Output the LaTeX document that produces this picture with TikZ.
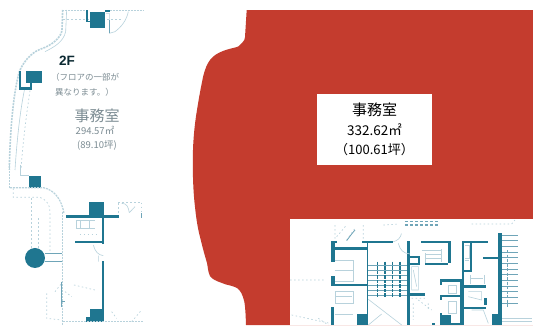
\documentclass[tikz,border=0pt]{standalone}
\usepackage{fontspec}
\setmainfont{Liberation Sans}
\newfontfamily\cjk{Noto Sans CJK JP}
\definecolor{redfill}{HTML}{C43C2E}
\definecolor{plan}{HTML}{1F7690}
\definecolor{mid}{HTML}{6FA5B8}
\definecolor{faint}{HTML}{B8D2DC}
\definecolor{gtext}{HTML}{7C8C93}
\tikzset{
  wall/.style={fill=plan,draw=none},
  midline/.style={draw=mid,line width=.8pt},
  fline/.style={draw=faint,line width=.6pt},
  hatch/.style={draw=faint,line width=1.6pt,dash pattern=on 2pt off 1pt},
  dline/.style={draw=faint,line width=.7pt,dash pattern=on 1.5pt off 2.5pt},
  ltext/.style={text=gtext,inner sep=0pt,font=\cjk\fontsize{8.5}{9}\selectfont},
  mtext/.style={text=black,inner sep=0pt,align=center},
}
\newcommand{\W}[4]{\fill[wall] (#1,#2) rectangle (#3,#4);}
\begin{document}
\begin{tikzpicture}[x=1pt,y=-1pt]
\useasboundingbox (0,0) rectangle (533,325);
\fill[white] (0,0) rectangle (533,325);
% red area
\fill[redfill] (246.7,10) -- (533,10) -- (533,325) -- (246,325)
  .. controls (245.5,310) and (245,302) .. (243,297)
  .. controls (241,291) and (238,288) .. (235,287)
  .. controls (230,285) and (226,285) .. (222,283)
  .. controls (216,281) and (212,279) .. (210,276)
  .. controls (208,272) and (208,268) .. (207,263)
  .. controls (204,253) and (202,245) .. (200,237)
  .. controls (197,225) and (196,216) .. (195,207)
  .. controls (193,190) and (192.5,170) .. (193,150)
  .. controls (193.5,135) and (195,122) .. (197,110)
  .. controls (199,97) and (201,87) .. (203,77)
  .. controls (205,69) and (207,64) .. (210,60)
  .. controls (214,55) and (218,53) .. (223,51)
  .. controls (228,49) and (230,49) .. (233,48)
  .. controls (238,47) and (240,46) .. (242,43)
  .. controls (244,41) and (245,39) .. (245,37)
  -- cycle;
% label box
\node[fill=white,minimum width=115pt,minimum height=71pt,inner sep=0pt] (lab) at (374.5,129.5) {};
\node[mtext,font=\cjk\fontsize{15}{15}\selectfont] (l1) at (374.5,110) {事務室};
\node[mtext,font=\cjk\fontsize{13.5}{14}\selectfont] (l2) at (374.5,130) {332.62㎡};
\node[mtext,font=\cjk\fontsize{13}{14}\selectfont] (l3) at (374.5,150) {（100.61坪）};
% lower right white plan
\fill[white] (290,219) rectangle (533,325);
\begin{scope}[shift={(285pt,-210pt)},x=.3333pt,y=-.3333pt]
 \W{137}{92}{150}{155}\W{137}{92}{157}{99}\W{137}{112}{245}{120}
 \W{137}{197}{150}{222}\W{137}{222}{245}{228}\W{137}{290}{148}{345}
 \W{232}{92}{325}{98}\W{245}{92}{250}{345}\W{215}{312}{248}{345}
 \W{365}{92}{375}{345}\W{375}{250}{420}{258}\W{375}{137}{405}{143}\W{375}{158}{405}{164}\W{398}{137}{405}{164}
 \W{407}{92}{497}{98}\W{488}{92}{497}{160}\W{420}{158}{490}{165}
 \W{530}{92}{610}{98}\W{530}{92}{537}{187}\W{555}{92}{561}{187}\W{530}{180}{561}{187}
 \W{530}{180}{537}{345}\W{595}{142}{645}{148}\W{640}{70}{652}{345}
 \W{537}{225}{603}{233}\W{597}{265}{605}{285}\W{537}{290}{603}{296}
 \W{465}{207}{530}{215}\W{465}{207}{472}{225}\W{465}{255}{530}{262}\W{465}{255}{472}{270}
 \W{525}{215}{531}{345}\W{465}{310}{472}{345}\W{465}{315}{498}{345}\W{620}{312}{645}{345}
 \W{440}{340}{450}{345}\W{498}{340}{525}{345}
 \foreach \yy in {165,180,195,210,225,240,255}
   \draw[midline,line width=.6pt] (250,\yy) -- (365,\yy);
 \foreach \xx in {278,300,322,345}
   \draw[draw=plan,line width=1.1pt,dash pattern=on 3.5pt off 1pt] (\xx,155) -- (\xx,262);
 \foreach \yy in {75,92,109,126,143,160,177,194,211,228,245,262,279}
   \draw[midline,line width=.6pt] (652,\yy) -- (700,\yy);
 \draw[draw=mid,line width=1.4pt,dash pattern=on 3pt off 1.5pt] (668,120) -- (668,290);
 \draw[fline] (250,268) -- (350,345) (325,95) arc (80:10:30) (250,345) -- (290,312);
 \draw[dline] (150,45) -- (150,90) (235,45) -- (235,90) (155,80) -- (185,45) (185,90) -- (210,55);
 \draw[draw=mid,line width=.8pt] (185,92) -- (200,72) -- (210,60);
 \draw[dline] (295,45) -- (340,42) (560,42) -- (680,42) (15,210) -- (120,210) (680,42) -- (690,30);
 \draw[draw=mid,line width=1.2pt,dash pattern=on 3pt off 2pt] (360,35) -- (460,35) (360,45) -- (460,45);
 \draw[fline] (150,150) -- (205,150) (150,180) -- (205,180) (205,150) -- (205,215) (150,215) -- (205,215);
 \draw[fline] (150,245) -- (205,245) -- (205,280) -- (150,280) -- (150,245) (150,312) -- (205,312) (150,260) -- (200,260);
 \draw[fline] (380,170) -- (400,170) -- (400,240) -- (380,240) -- cycle (385,180) -- (395,230);
 \draw[fline] (410,120) -- (470,120) (420,145) -- (470,145) (420,132) -- (470,132) (470,118) -- (470,155) (420,130) -- (420,158);
 \draw[fline] (340,100) .. controls (345,120) and (355,130) .. (375,132);
 \draw[fline] (490,225) -- (515,225) -- (515,250) -- (490,250) -- cycle (490,275) -- (515,275) -- (515,310) -- (490,310) -- cycle;
 \draw[fline] (540,105) -- (553,105) -- (553,145) -- (540,145) (540,150) -- (553,150) (555,205) -- (595,205) (557,195) -- (557,222) (597,195) -- (597,222);
 \draw[fline] (550,245) -- (590,245) -- (590,270) -- (550,260) (560,300) -- (595,300) (595,300) -- (610,340);
 \draw[dline] (400,270) -- (440,300) (430,280) -- (430,300) (380,265) -- (420,265) (385,280) -- (385,330);
 \draw[fline] (652,325) -- (740,325) (652,335) -- (740,335);
 \draw[dline] (20,315) -- (135,340) (100,325) -- (130,345);
\end{scope}
% left plan upper
\begin{scope}[x=.3333pt,y=-.3333pt]
 \draw[hatch,line width=1pt] (186,30) -- (258,30) (330,30) -- (432,30);
 \draw[dline] (190,58) -- (370,58);
 \W{270}{35}{315}{85}\W{258}{30}{263}{65}\W{258}{62}{270}{66}\W{315}{30}{330}{36}
 \draw[fline] (318,40) -- (328,40) -- (328,100) -- (345,95) (345,95) .. controls (365,80) and (380,60) .. (385,35);
 \draw[draw=mid,line width=1pt] (328,60) -- (328,100);
 \draw[hatch] (188,30) -- (186,90) .. controls (184,110) and (160,135) .. (120,148)
   .. controls (90,160) and (68,190) .. (58,215) .. controls (42,270) and (30,380) .. (28,510);
 \draw[fline] (200,30) -- (197,95) .. controls (190,125) and (165,140) .. (135,155);
 \draw[fline] (75,262) .. controls (60,330) and (50,430) .. (45,510);
 \W{78}{212}{125}{248}\W{58}{262}{97}{270}\W{58}{212}{64}{270}\W{90}{248}{97}{270}
 \draw[dline] (90,272) .. controls (80,340) and (68,430) .. (63,510);
\end{scope}
% left plan lower
\begin{scope}[shift={(0pt,-165pt)},x=.3333pt,y=-.3333pt]
 \draw[hatch] (28,0) -- (28,70);
 \draw[fline] (62,0) -- (62,32) -- (88,32);
 \W{88}{33}{122}{70}
 \draw[hatch,line width=1.2pt] (30,68) -- (130,68) .. controls (165,75) and (185,105) .. (192,145);
 \draw[dline] (40,70) -- (40,97) -- (120,97) .. controls (140,105) and (150,120) .. (150,140) -- (150,260);
 \draw[dline] (95,100) -- (95,250) (115,160) -- (115,250);
 \draw[hatch] (188,140) -- (188,480);
 \W{197}{150}{357}{160}\W{267}{110}{313}{155}
 \W{305}{160}{312}{238}\W{225}{228}{312}{235}\W{305}{288}{312}{440}
 \W{270}{433}{312}{470}\W{258}{455}{270}{470}
 \fill[wall] (105,279) circle (10pt);
 \draw[midline] (135,265) -- (185,265) (135,290) -- (185,290);
 \draw[hatch,line width=1pt] (190,470) -- (430,470);
 \draw[fline] (228,165) -- (285,165) (228,190) -- (285,190) (228,165) -- (228,190) (240,165) -- (240,190) (268,165) -- (268,190);
 \draw[dline] (240,207) -- (290,207);
 \draw[fline] (280,240) .. controls (285,260) and (295,270) .. (310,272) (295,272) -- (295,290);
 \draw[dline] (355,115) -- (355,150) (355,113) -- (425,113) (425,113) -- (425,160);
 \draw[fline] (388,143) -- (405,125) (365,115) .. controls (380,115) and (385,125) .. (388,143);
 \draw[draw=mid,line width=1pt] (425,145) -- (425,160);
 \draw[dline] (140,385) -- (140,460) -- (185,465) (165,380) -- (185,355) (195,380) -- (215,395) (222,360) -- (285,375) (335,440) -- (350,460) (395,470) -- (425,435);
 \draw[draw=mid,line width=1pt] (186,350) -- (186,425) (186,410) -- (196,410);
\end{scope}
% left texts
\node[inner sep=0pt,text=black!65!plan,font=\bfseries\fontsize{13.5}{13}\selectfont] (f2) at (67,61) {2F};
\node[ltext,anchor=west] (t1) at (51,77.5) {（フロアの一部が};
\node[ltext,anchor=west] (t2) at (55,92) {異なります。）};
\node[ltext,font=\cjk\fontsize{15}{15}\selectfont] (t3) at (97,116) {事務室};
\node[ltext,font=\cjk\fontsize{9.5}{10}\selectfont] (t4) at (95,130.5) {294.57㎡};
\node[ltext,font=\cjk\fontsize{9.5}{10}\selectfont] (t5) at (97,145.5) {(89.10坪)};
\end{tikzpicture}
\end{document}
